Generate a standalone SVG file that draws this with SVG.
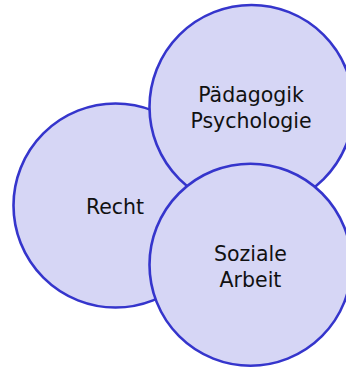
<svg xmlns="http://www.w3.org/2000/svg" width="346" height="368" viewBox="0 0 346 368">
<style>
.c{fill:#d6d6f5;stroke:#3535cc;stroke-width:2.6}
.t{font-family:"DejaVu Sans",Verdana,sans-serif;font-size:20.5px;fill:#111;text-anchor:middle}
</style>
<rect width="346" height="368" fill="#fff"/>
<g id="recht"><circle class="c" cx="115.5" cy="205.5" r="102"/><text class="t" x="115" y="214">Recht</text></g>
<g id="paedagogik"><circle class="c" cx="251.5" cy="107" r="102"/><text class="t" x="251" y="102">Pädagogik</text><text class="t" x="251" y="128">Psychologie</text></g>
<g id="soziale"><circle class="c" cx="250.5" cy="264.7" r="101"/><text class="t" x="250.5" y="261">Soziale</text><text class="t" x="250.5" y="287">Arbeit</text></g>
<g id="connectors"/>
</svg>
